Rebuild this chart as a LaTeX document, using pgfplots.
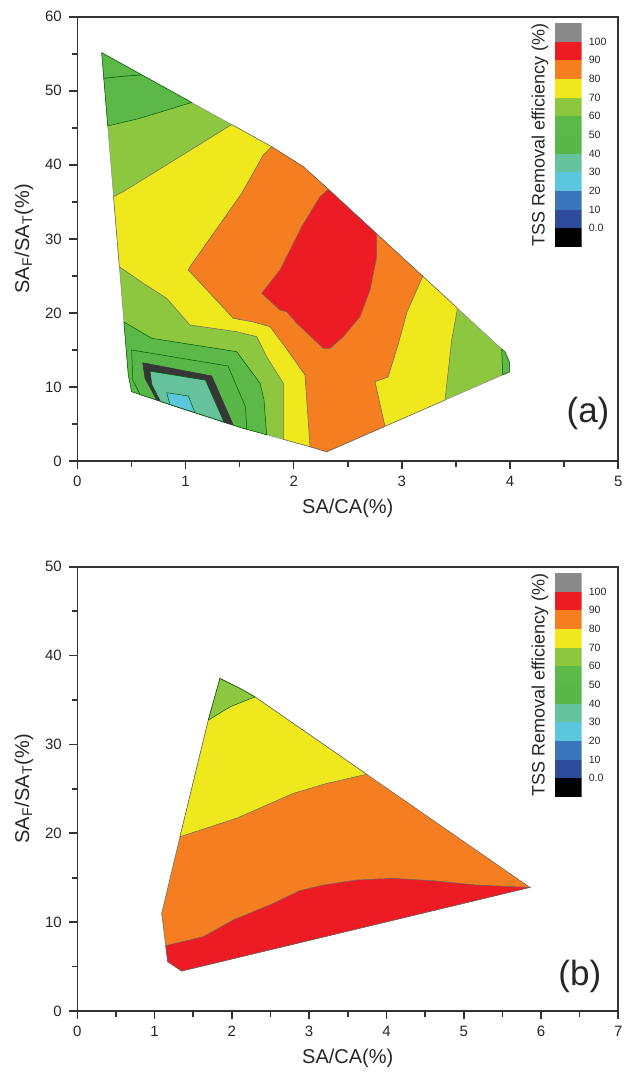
\documentclass[border=0pt]{standalone}
\usepackage{fontspec}
\setmainfont{Liberation Sans}
\usepackage{pgfplots}
\pgfplotsset{compat=1.18}
\definecolor{cgray}{HTML}{8A8A8A}
\definecolor{cred}{HTML}{ED1C24}
\definecolor{corange}{HTML}{F47E20}
\definecolor{cyellow}{HTML}{EEE81C}
\definecolor{clgreen}{HTML}{8DC63F}
\definecolor{cgreen}{HTML}{5CB947}
\definecolor{cgreenb}{HTML}{58B748}
\definecolor{cteal}{HTML}{66C29D}
\definecolor{ccyan}{HTML}{5BC6DC}
\definecolor{cblue}{HTML}{3A75BB}
\definecolor{cdblue}{HTML}{2E4A9C}
\definecolor{cdark}{HTML}{363636}
\pgfplotsset{
  mainax/.style={scale only axis, width=270.5pt, height=222.15pt, anchor=north west,
    axis line style={line width=0.8pt, black!80}, tick align=outside, tick pos=left,
    major tick length=4.2pt, minor tick length=2.8pt,
    every tick/.style={line width=0.8pt, black!80},
    tick label style={font=\fontsize{7.5}{9}\selectfont, black!85},
    label style={font=\fontsize{10}{12}\selectfont, black!85},
    /pgf/number format/assume math mode=true,
    xlabel style={at={(axis description cs:0.5,-0.1058)}, anchor=center},
    ylabel style={at={(axis description cs:-0.0985,0.5)}, anchor=center},
    xlabel={SA/CA(\%)}, ylabel={SA\textsubscript{F}/SA\textsubscript{T}(\%)},
    minor x tick num=1, minor y tick num=1},
  reg/.style={fill=#1, draw=black!60, line width=0.25pt},
  greg/.style={fill=#1, draw=green!35!black, line width=0.25pt},
  cbax/.style={scale only axis, width=13.35pt, height=112pt, anchor=north west,
    xmin=0, xmax=1, ymin=-10, ymax=110, axis line style={draw=none},
    xtick=\empty, ytick={0,10,...,100}, yticklabels={0.0,10,20,30,40,50,60,70,80,90,100},
    yticklabel pos=right, ytick style={draw=none},
    yticklabel style={font=\fontsize{5.3}{6}\selectfont, black!85},
    ylabel={TSS Removal efficiency (\%)},
    ylabel style={at={(axis description cs:-0.562,0.5)}, anchor=center, rotate=0,
      font=\fontsize{9}{10}\selectfont, black!85}},
}
\begin{document}
\begin{tikzpicture}
\useasboundingbox (0,0) rectangle (314.5pt,-536pt);
% ---------------- (a) ----------------
\begin{axis}[mainax, at={(38.65pt,-8.35pt)}, xmin=0, xmax=5, ymin=0, ymax=60,
  xtick={0,1,2,3,4,5}, ytick={0,10,20,30,40,50,60}]
% hull (60-70)
\addplot[fill=clgreen, draw=black!45, line width=0.25pt] coordinates {
(0.2255,55.14) (1.7967,42.44) (2.0887,39.74) (2.3198,36.69) (3.953,14.72) (3.994,13.37)
(3.993,12.02) (2.305,1.256) (2.151,1.931) (1.534,4.416) (0.9187,7.333) (0.5028,9.358)
(0.4713,11.61) (0.2255,55.14)};
% upper-left green
\addplot[greg=cgreen] coordinates {
(0.2255,55.14) (1.0573,48.42) (0.5795,46.28) (0.2814,45.24) (0.2255,55.14)};
\addplot[draw=green!35!black, line width=0.3pt] coordinates {
(0.2451,51.67) (0.42,51.95) (0.5952,52.15)};
% yellow (>=70)
\addplot[reg=cyellow] coordinates {
(1.427,45.43) (0.4251,36.37) (0.3352,35.71) (0.3887,26.24) (0.61,24.0) (0.8262,21.97)
(1.0416,18.37) (1.4732,17.46) (1.658,16.79) (1.7505,14.08) (1.9039,10.49) (1.9039,2.926)
(2.151,1.931) (2.305,1.256) (3.3983,8.228) (3.4603,16.34) (3.5139,20.63) (2.3198,36.69)
(2.0887,39.74) (1.7967,42.44) (1.427,45.43)};
% orange (>=80)
\addplot[reg=corange] coordinates {
(1.7967,42.44) (1.719,41.32) (1.5194,36.15) (1.0416,26.24) (1.0259,25.79) (1.4418,19.27)
(1.6266,18.77) (1.781,18.14) (1.9196,15.44) (2.1044,11.61) (2.151,1.931) (2.305,1.256)
(2.8438,4.692) (2.7514,10.71) (2.8715,11.34) (2.964,15.67) (3.0472,20.12) (3.1922,24.95)
(2.3198,36.69) (2.0887,39.74) (1.7967,42.44)};
% red (>=90)
\addplot[reg=cred] coordinates {
(2.3198,36.69) (2.2431,35.69) (2.074,31.64) (1.9815,28.94) (1.8734,25.79) (1.7043,22.65)
(1.8734,20.39) (1.9353,20.16) (2.0277,18.60) (2.2736,15.22) (2.3355,15.22) (2.4584,16.79)
(2.6128,19.49) (2.7052,23.09) (2.7671,27.59) (2.7671,30.67) (2.3198,36.69)};
% right tip green
\addplot[greg=cgreen] coordinates {
(3.9224,15.13) (3.953,14.72) (3.994,13.37) (3.993,12.02) (3.9316,11.63) (3.9224,15.13)};
% lower-left green (<=60)
\addplot[greg=cgreen] coordinates {
(0.4309,18.77) (0.6876,16.57) (1.4732,14.76) (1.6886,10.49) (1.7255,8.24) (1.750,3.546)
(1.534,4.416) (0.9187,7.333) (0.5028,9.358) (0.4713,11.61) (0.4309,18.77)};
% (<=50)
\addplot[greg=cgreenb] coordinates {
(0.5795,8.985) (0.512,10.94) (0.5028,14.99) (1.3928,12.83) (1.5545,7.29) (1.5656,4.289)
(1.534,4.416) (0.9187,7.333) (0.5795,8.985)};
% dark band
\addplot[fill=cdark, draw=cdark, line width=0.25pt] coordinates {
(0.6044,13.27) (1.2421,11.48) (1.4418,4.853) (0.9187,7.333) (0.7338,8.233) (0.6257,11.17)
(0.6044,13.27)};
% teal (30-40)
\addplot[greg=cteal] coordinates {
(0.6719,12.13) (1.1848,10.91) (1.3558,5.261) (0.9187,7.333) (0.7689,8.062) (0.6904,10.26)
(0.6719,12.13)};
% cyan (20-30)
\addplot[greg=ccyan] coordinates {
(0.8262,9.22) (1.0259,8.78) (1.0878,6.531) (0.9187,7.333) (0.8567,7.635) (0.8262,9.22)};
\node[font=\fontsize{17.5}{20}\selectfont, black!85] at (axis description cs:0.944,0.108) {(a)};
\end{axis}
% colorbar (a)
\begin{axis}[cbax, at={(277.5pt,-11.5pt)}]
\addplot[fill=black, draw=none] coordinates {(0,-10) (1,-10) (1,0) (0,0)};
\addplot[fill=cdblue, draw=none] coordinates {(0,0) (1,0) (1,10) (0,10)};
\addplot[fill=cblue, draw=none] coordinates {(0,10) (1,10) (1,20) (0,20)};
\addplot[fill=ccyan, draw=none] coordinates {(0,20) (1,20) (1,30) (0,30)};
\addplot[fill=cteal, draw=none] coordinates {(0,30) (1,30) (1,40) (0,40)};
\addplot[fill=cgreenb, draw=none] coordinates {(0,40) (1,40) (1,50) (0,50)};
\addplot[fill=cgreen, draw=none] coordinates {(0,50) (1,50) (1,60) (0,60)};
\addplot[fill=clgreen, draw=none] coordinates {(0,60) (1,60) (1,70) (0,70)};
\addplot[fill=cyellow, draw=none] coordinates {(0,70) (1,70) (1,80) (0,80)};
\addplot[fill=corange, draw=none] coordinates {(0,80) (1,80) (1,90) (0,90)};
\addplot[fill=cred, draw=none] coordinates {(0,90) (1,90) (1,100) (0,100)};
\addplot[fill=cgray, draw=none] coordinates {(0,100) (1,100) (1,110) (0,110)};
\end{axis}
% ---------------- (b) ----------------
\begin{axis}[mainax, at={(38.65pt,-283.35pt)}, xmin=0, xmax=7, ymin=0, ymax=50,
  xtick={0,1,2,3,4,5,6,7}, ytick={0,10,20,30,40,50}]
\addplot[reg=corange] coordinates {
(1.846,37.42) (2.105,36.30) (2.299,35.35) (5.857,13.91) (1.351,4.50) (1.170,5.55)
(1.144,7.35) (1.092,10.99) (1.329,19.61) (1.695,32.73) (1.846,37.42)};
\addplot[reg=cyellow] coordinates {
(1.329,19.61) (1.695,32.73) (1.846,37.42) (2.105,36.30) (2.299,35.35) (3.744,26.64)
(3.227,25.61) (2.795,24.49) (2.066,21.71) (1.329,19.61)};
\addplot[greg=clgreen] coordinates {
(1.695,32.73) (1.846,37.42) (2.105,36.30) (2.299,35.35) (1.976,34.23) (1.695,32.73)};
\addplot[reg=cred] coordinates {
(1.144,7.35) (1.630,8.36) (2.018,10.24) (2.536,12.11) (2.881,13.55) (3.183,14.17)
(3.615,14.74) (4.088,14.93) (4.606,14.66) (5.168,14.17) (5.857,13.91) (1.351,4.50)
(1.170,5.55) (1.144,7.35)};
\node[font=\fontsize{17.5}{20}\selectfont, black!85] at (axis description cs:0.929,0.0788) {(b)};
\end{axis}
% colorbar (b)
\begin{axis}[cbax, at={(277.5pt,-286.5pt)}]
\addplot[fill=black, draw=none] coordinates {(0,-10) (1,-10) (1,0) (0,0)};
\addplot[fill=cdblue, draw=none] coordinates {(0,0) (1,0) (1,10) (0,10)};
\addplot[fill=cblue, draw=none] coordinates {(0,10) (1,10) (1,20) (0,20)};
\addplot[fill=ccyan, draw=none] coordinates {(0,20) (1,20) (1,30) (0,30)};
\addplot[fill=cteal, draw=none] coordinates {(0,30) (1,30) (1,40) (0,40)};
\addplot[fill=cgreenb, draw=none] coordinates {(0,40) (1,40) (1,50) (0,50)};
\addplot[fill=cgreen, draw=none] coordinates {(0,50) (1,50) (1,60) (0,60)};
\addplot[fill=clgreen, draw=none] coordinates {(0,60) (1,60) (1,70) (0,70)};
\addplot[fill=cyellow, draw=none] coordinates {(0,70) (1,70) (1,80) (0,80)};
\addplot[fill=corange, draw=none] coordinates {(0,80) (1,80) (1,90) (0,90)};
\addplot[fill=cred, draw=none] coordinates {(0,90) (1,90) (1,100) (0,100)};
\addplot[fill=cgray, draw=none] coordinates {(0,100) (1,100) (1,110) (0,110)};
\end{axis}
\end{tikzpicture}
\end{document}
